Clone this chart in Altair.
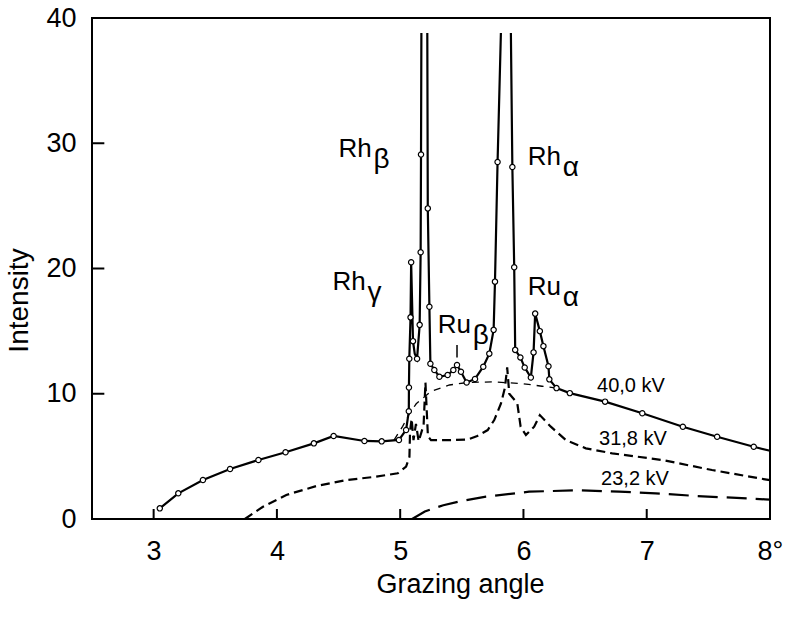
import altair as alt
import pandas as pd

FONT = "Liberation Sans"

# ---- 40,0 kV measured curve (segments: the Rh peaks run off the top) ----
k40_seg = [0] * 24 + [1] * 18 + [2] * 21
k40_x = [3.05, 3.20, 3.40, 3.62, 3.85, 4.07, 4.30, 4.46, 4.71, 4.85, 4.99, 5.048,
         5.070, 5.071, 5.074, 5.084, 5.089, 5.104, 5.118, 5.137, 5.158, 5.166, 5.169, 5.172,
         5.220, 5.224, 5.237, 5.245, 5.277, 5.318, 5.385, 5.431, 5.461, 5.493, 5.539,
         5.607, 5.674, 5.723, 5.758, 5.769, 5.790, 5.817,
         5.898, 5.910, 5.925, 5.933, 5.975, 6.010, 6.060, 6.082, 6.095, 6.133, 6.162,
         6.203, 6.210, 6.268, 6.376, 6.662, 6.964, 7.293, 7.571, 7.868, 8.0]
k40_y = [0.85, 2.05, 3.11, 3.99, 4.71, 5.33, 6.04, 6.63, 6.23, 6.20, 6.31, 7.11,
         8.6, 10.5, 12.8, 16.1, 20.5, 14.2, 13.2, 12.8, 15.5, 21.3, 29.1, 38.8,
         38.8, 24.8, 16.95, 12.4, 11.9, 11.36, 11.5, 11.9, 12.3, 11.76, 10.9,
         11.18, 12.16, 13.2, 15.1, 18.95, 28.5, 38.8,
         38.8, 28.1, 20.1, 13.5, 12.9, 12.1, 11.3, 13.3, 16.4, 15.0, 13.8,
         12.2, 11.15, 10.45, 10.05, 9.37, 8.44, 7.37, 6.57, 5.77, 5.45]
k40_mark = [1] * 18 + [0, 1, 1, 1, 1, 0] + [0] + [1] * 16 + [0] + [0] + [1] * 19 + [0]

# ---- background under the 40,0 kV peaks (thin dashes) ----
bg_x = [4.95, 5.02, 5.075, 5.13, 5.25, 5.40, 5.55, 5.76, 6.00, 6.15, 6.27]
bg_y = [6.3, 7.4, 8.4, 9.2, 10.2, 10.7, 10.9, 10.95, 10.8, 10.6, 10.45]

# ---- 31,8 kV ----
k31_x = [3.74, 3.887, 4.076, 4.319, 4.562, 4.805, 4.98, 5.048, 5.075, 5.080, 5.093,
         5.108, 5.128, 5.150, 5.190, 5.205, 5.225, 5.25, 5.40, 5.55, 5.62, 5.71,
         5.763, 5.817, 5.850, 5.868, 5.885, 5.95, 5.977, 6.02, 6.087, 6.133, 6.222,
         6.344, 6.506, 6.72, 7.126, 7.53, 7.96, 8.0]
k31_y = [0.0, 0.98, 1.92, 2.63, 3.11, 3.38, 3.65, 4.18, 4.97, 7.0, 8.0,
         6.3, 7.6, 6.2, 7.5, 10.9, 6.6, 6.3, 6.3, 6.35, 6.6, 7.1,
         7.9, 9.2, 10.5, 12.1, 10.0, 9.24, 7.37, 6.7, 7.37, 8.3, 7.37,
         6.3, 5.64, 5.24, 4.71, 3.91, 3.17, 3.1]

# ---- 23,2 kV ----
k23_x = [5.097, 5.20, 5.35, 5.50, 5.696, 6.046, 6.45, 6.775, 7.072, 7.395, 7.96, 8.0]
k23_y = [0.0, 0.6, 1.1, 1.45, 1.78, 2.18, 2.3, 2.18, 2.05, 1.84, 1.57, 1.55]

# ---- annotations ----
lab_main = ["Rh", "Rh", "Rh", "Ru", "Ru"]
lab_sub = ["β", "α", "γ", "β", "α"]
lab_x = [4.50, 6.035, 4.45, 5.305, 6.035]
lab_y = [28.9, 28.3, 18.3, 14.85, 17.9]

kv_text = ["40,0 kV", "31,8 kV", "23,2 kV"]
kv_x = [6.597, 6.613, 6.63]
kv_y = [10.14, 5.91, 2.71]

ru_beta_mark_x = [5.461]
ru_beta_mark_y = [12.9]
ru_beta_mark_y2 = [13.9]

x_ticks = [3, 4, 5, 6, 7, 8]
y_ticks = [0, 10, 20, 30, 40]

# ---------------------------------------------------------------------------
xs = alt.Scale(domain=[2.5, 8], nice=False, zero=False)
ys = alt.Scale(domain=[0, 40], nice=False)

x_axis = alt.Axis(values=x_ticks,
                  labelExpr="datum.value == 8 ? '8°' : format(datum.value, 'd')",
                  ticks=False, domain=False, grid=False, labelFlush=False,
                  labelPadding=40, labelBaseline="alphabetic", labelFontSize=27,
                  labelFont=FONT, labelColor="black",
                  title="Grazing angle", titleFont=FONT, titleFontSize=27,
                  titleFontWeight="normal", titleColor="black",
                  titleX=368, titleY=73, titleBaseline="alphabetic")
y_axis = alt.Axis(values=y_ticks, format="d", ticks=False, domain=False, grid=False,
                  labelPadding=16, labelBaseline="middle", labelFontSize=27,
                  labelFont=FONT, labelColor="black",
                  title="Intensity", titleFont=FONT, titleFontSize=28,
                  titleFontWeight="normal", titleColor="black", titleAngle=270,
                  titleX=-65, titleY=282, titleBaseline="alphabetic", titleAlign="center")

k40 = pd.DataFrame({"seg": k40_seg, "x": k40_x, "y": k40_y, "m": k40_mark})
k40["i"] = range(len(k40))
bg = pd.DataFrame({"x": bg_x, "y": bg_y})
bg["i"] = range(len(bg))
k31 = pd.DataFrame({"x": k31_x, "y": k31_y})
k31["i"] = range(len(k31))
k23 = pd.DataFrame({"x": k23_x, "y": k23_y})
k23["i"] = range(len(k23))
labs = pd.DataFrame({"main": lab_main, "sub": lab_sub, "x": lab_x, "y": lab_y})
kvs = pd.DataFrame({"t": kv_text, "x": kv_x, "y": kv_y})
rub = pd.DataFrame({"x": ru_beta_mark_x, "y": ru_beta_mark_y, "y2": ru_beta_mark_y2})
xt = pd.DataFrame({"x": x_ticks[:-1]})
yt = pd.DataFrame({"y": y_ticks[1:-1]})

X = alt.X("x:Q", scale=xs, axis=x_axis)
Y = alt.Y("y:Q", scale=ys, axis=y_axis)

base_axes = alt.Chart(k40).mark_line(color="black", strokeWidth=2.2).encode(
    x=X, y=Y, detail="seg:N", order="i:Q")

bg_line = alt.Chart(bg).mark_line(color="black", strokeWidth=1.3, strokeDash=[7, 6]).encode(
    x=alt.X("x:Q", scale=xs), y=alt.Y("y:Q", scale=ys), order="i:Q")
l31 = alt.Chart(k31).mark_line(color="black", strokeWidth=2.2, strokeDash=[9, 5]).encode(
    x=alt.X("x:Q", scale=xs), y=alt.Y("y:Q", scale=ys), order="i:Q")
l23 = alt.Chart(k23).mark_line(color="black", strokeWidth=2.2, strokeDash=[20, 9]).encode(
    x=alt.X("x:Q", scale=xs), y=alt.Y("y:Q", scale=ys), order="i:Q")
pts = alt.Chart(k40).transform_filter("datum.m == 1").mark_point(
    shape="circle", filled=True, fill="white", stroke="black", strokeWidth=1.2, size=28,
    opacity=1).encode(x=alt.X("x:Q", scale=xs), y=alt.Y("y:Q", scale=ys))
rub_rule = alt.Chart(rub).mark_rule(color="black", strokeWidth=1.5).encode(
    x=alt.X("x:Q", scale=xs), y=alt.Y("y:Q", scale=ys), y2="y2:Q")
xtick = alt.Chart(xt).mark_rule(color="black", strokeWidth=2).encode(
    x=alt.X("x:Q", scale=xs), y=alt.datum(0, scale=ys), y2=alt.datum(0.8))
ytick = alt.Chart(yt).mark_rule(color="black", strokeWidth=2).encode(
    y=alt.Y("y:Q", scale=ys), x=alt.datum(2.5, scale=xs), x2=alt.datum(2.6))
main_txt = alt.Chart(labs).mark_text(font=FONT, fontSize=26, align="left",
                                     baseline="alphabetic", color="black").encode(
    x=alt.X("x:Q", scale=xs), y=alt.Y("y:Q", scale=ys), text="main:N")
sub_txt = alt.Chart(labs).mark_text(font=FONT, fontSize=28, align="left",
                                    baseline="alphabetic", color="black", dx=35, dy=11).encode(
    x=alt.X("x:Q", scale=xs), y=alt.Y("y:Q", scale=ys), text="sub:N")
kv_txt = alt.Chart(kvs).mark_text(font=FONT, fontSize=20, align="left",
                                  baseline="alphabetic", color="black").encode(
    x=alt.X("x:Q", scale=xs), y=alt.Y("y:Q", scale=ys), text="t:N")

chart = alt.layer(base_axes, bg_line, l23, l31, xtick, ytick, rub_rule, pts,
                  main_txt, sub_txt, kv_txt).properties(
    width=678, height=501,
    autosize=alt.AutoSizeParams(type="none"),
    padding={"left": 92, "top": 18, "right": 18, "bottom": 99},
    background="white",
).configure_view(stroke="black", strokeWidth=2)

chart.save("out.html", embed_options={"renderer": "svg", "actions": False})
